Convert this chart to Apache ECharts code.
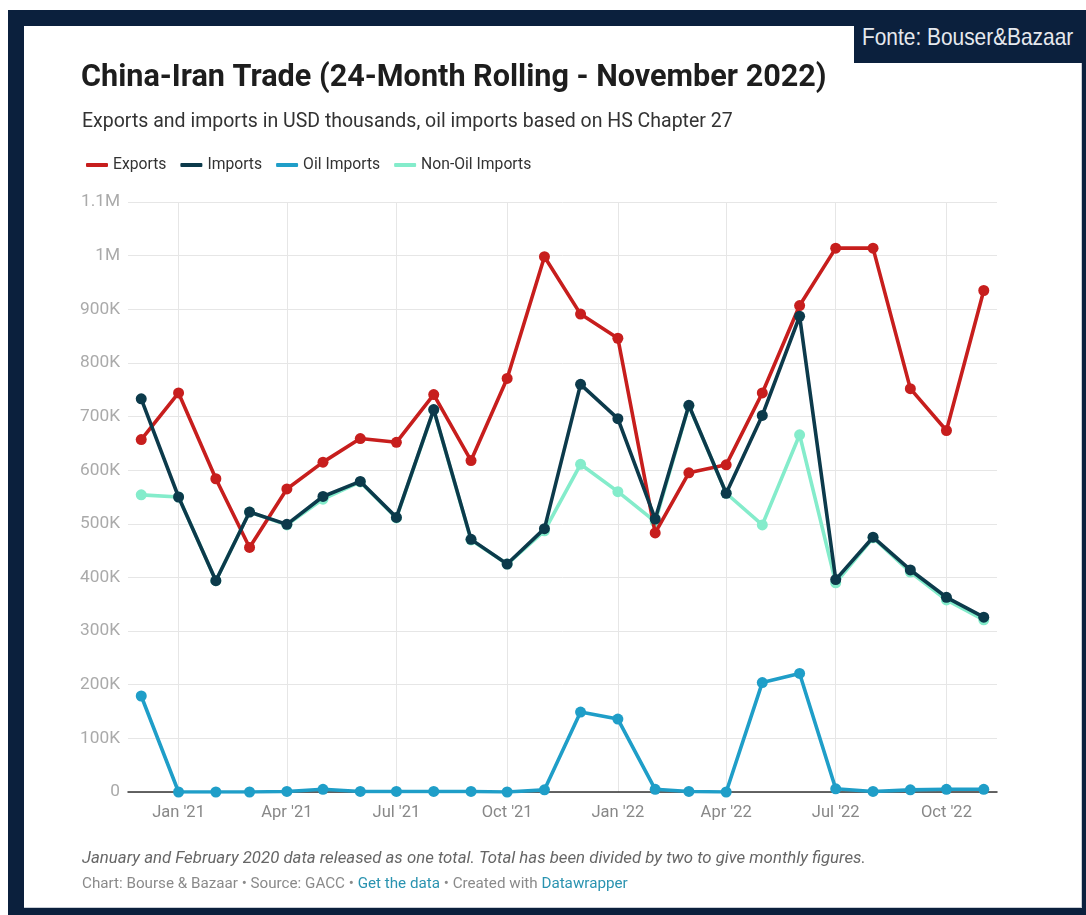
<!DOCTYPE html>
<html>
<head>
<meta charset="utf-8">
<script src="https://cdn.jsdelivr.net/npm/echarts@6/dist/echarts.min.js"></script>
<style>
html,body{margin:0;padding:0;background:#fff;width:1086px;height:915px;overflow:hidden;}
#frame{position:absolute;left:8px;top:10px;width:1078px;height:905px;background:#0b203d;}
#panel{position:absolute;left:24px;top:26px;width:1057px;height:881px;background:#fff;border-right:1px solid #c9ced6;border-bottom:1px solid #c9ced6;}
#fonte{position:absolute;left:854px;top:10px;width:232px;height:53px;background:#0b203d;}
#fonte span{position:absolute;left:8px;top:0;line-height:53px;color:#e6e9ee;font-family:'Liberation Sans',Arial,sans-serif;font-size:24px;white-space:nowrap;transform:scaleX(0.87);transform-origin:0 50%;}
#c{position:absolute;left:0;top:0;width:1086px;height:915px;}
</style>
</head>
<body>
<div id="frame"></div>
<div id="panel"></div>
<div id="c"></div>
<div id="fonte"><span>Fonte: Bouser&amp;Bazaar</span></div>
<script>
// ---- data ----
const months = ['2020-12','2021-01','2021-02','2021-03','2021-04','2021-05','2021-06','2021-07','2021-08','2021-09','2021-10','2021-11',
                '2021-12','2022-01','2022-02','2022-03','2022-04','2022-05','2022-06','2022-07','2022-08','2022-09','2022-10','2022-11'];
const exportsVals = [657000, 744000, 584000, 456000, 565000, 615000, 659000, 652000, 741000, 618000, 771000, 998000,
                     891000, 846000, 483000, 595000, 610000, 744000, 907000, 1014000, 1014000, 752000, 674000, 935000];
const importsVals = [733000, 550000, 394000, 522000, 499000, 551000, 579000, 512000, 713000, 471000, 425000, 491000,
                     760000, 696000, 509000, 721000, 557000, 702000, 887000, 396000, 475000, 414000, 363000, 326000];
const oilVals = [179000, 0, 0, 0, 1000, 5000, 1000, 1000, 1000, 1000, 0, 4000,
                 149000, 136000, 5000, 1000, 0, 204000, 221000, 6000, 1000, 4000, 5000, 5000];
const nonOilVals = [554000, 550000, 394000, 522000, 498000, 546000, 578000, 511000, 712000, 470000, 425000, 487000,
                    611000, 560000, 504000, 720000, 557000, 498000, 666000, 390000, 474000, 410000, 358000, 321000];
const xTickMonths = ['2021-01','2021-04','2021-07','2021-10','2022-01','2022-04','2022-07','2022-10'];
const xTickLabels = ["Jan '21","Apr '21","Jul '21","Oct '21","Jan '22","Apr '22","Jul '22","Oct '22"];
const yTicks = [0,100000,200000,300000,400000,500000,600000,700000,800000,900000,1000000,1100000];
const yTickLabels = ['0','100K','200K','300K','400K','500K','600K','700K','800K','900K','1M','1.1M'];

// ---- helpers ----
const DAY = 86400000;
function ts(m){ const p = m.split('-'); return Date.UTC(+p[0], +p[1]-1, 1) / DAY; } // days since epoch
const monthTs = months.map(ts);
const xTickTs = xTickMonths.map(ts);
function pairs(vals){ return vals.map((v,i)=>[monthTs[i], v]); }
function xLabel(v){
  let best = 0, bd = Infinity;
  xTickTs.forEach((t,i)=>{ const d = Math.abs(t - v); if (d < bd){ bd = d; best = i; } });
  return bd < 2 ? xTickLabels[best] : '';
}
function yLabel(v){
  const i = yTicks.indexOf(v);
  return i >= 0 ? yTickLabels[i] : '';
}

const C_EXP = '#c71e1d', C_IMP = '#0c3a4b', C_OIL = '#1f9ec8', C_NON = '#84eccb';
const FONT = 'Roboto, "Noto Sans", sans-serif';

const chart = echarts.init(document.getElementById('c'), null, {renderer:'canvas'});
function lineSeries(name, vals, color, z){
  return {
    name, type:'line', data: pairs(vals), z,
    symbol:'circle', symbolSize:11, showSymbol:true,
    lineStyle:{width:3.6, color}, itemStyle:{color},
    emphasis:{disabled:true}
  };
}
chart.setOption({
  animation:false,
  backgroundColor:'transparent',
  textStyle:{fontFamily:FONT},
  graphic:[
    {type:'text', x:81, y:78, style:{text:'China-Iran Trade (24-Month Rolling - November 2022)', fontFamily:FONT, fontSize:30.6, fontWeight:'bold', fill:'#1d1d1d', verticalAlign:'middle'}},
    {type:'text', x:82, y:122, style:{text:'Exports and imports in USD thousands, oil imports based on HS Chapter 27', fontFamily:FONT, fontSize:19.5, fill:'#333', verticalAlign:'middle'}},
    {type:'text', x:82, y:859, style:{text:'January and February 2020 data released as one total. Total has been divided by two to give monthly figures.', fontFamily:FONT, fontSize:16.8, fontStyle:'italic', fill:'#666', verticalAlign:'middle'}},
    {type:'text', x:82, y:884, style:{
      text:'{a|Chart: Bourse & Bazaar • Source: GACC • }{b|Get the data}{a| • Created with }{b|Datawrapper}',
      fontFamily:FONT, fontSize:15.2, verticalAlign:'middle',
      rich:{a:{fill:'#8a8a8a', fontFamily:FONT, fontSize:15.2}, b:{fill:'#2a93b0', fontFamily:FONT, fontSize:15.2}}
    }}
  ],
  legend:{
    data:['Exports','Imports','Oil Imports','Non-Oil Imports'],
    left:81, top:152, icon:'roundRect', itemWidth:22, itemHeight:4, itemGap:14,
    textStyle:{fontFamily:FONT, fontSize:15.7, color:'#333'}
  },
  grid:{left:128, right:89, top:202, bottom:123, containLabel:false},
  xAxis:{
    type:'value',
    min: ts('2020-11') + 19, max: ts('2022-11') + 11,
    axisLine:{show:true, onZero:false, lineStyle:{color:'#333', width:1.5}},
    axisTick:{show:false, customValues: xTickTs},
    axisLabel:{customValues: xTickTs, formatter: xLabel, color:'#888', fontSize:16.5, fontFamily:FONT, margin:12},
    splitLine:{show:true, lineStyle:{color:'#e6e6e6', width:1}}
  },
  yAxis:{
    type:'value', min:0, max:1100000, interval:100000,
    axisLine:{show:false}, axisTick:{show:false},
    axisLabel:{formatter: yLabel, color:'#aaa', fontSize:17.3, fontFamily:FONT, margin:8},
    splitLine:{show:true, lineStyle:{color:'#e6e6e6', width:1}}
  },
  series:[
    lineSeries('Non-Oil Imports', nonOilVals, C_NON, 2),
    lineSeries('Exports', exportsVals, C_EXP, 3),
    lineSeries('Oil Imports', oilVals, C_OIL, 4),
    lineSeries('Imports', importsVals, C_IMP, 5)
  ]
});
</script>
</body>
</html>
